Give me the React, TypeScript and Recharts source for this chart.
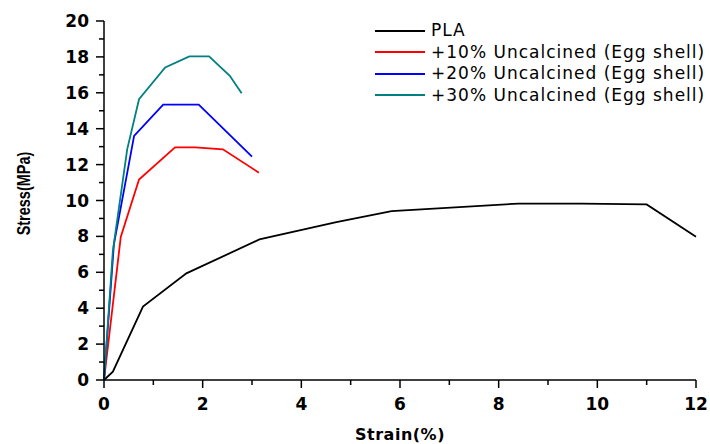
import { LineChart, Line, XAxis, YAxis, Legend, Label } from 'recharts'

// strain (%) / stress (MPa)
const plaStrain = [0, 0.18, 0.79, 1.67, 3.15, 4.71, 5.83, 8.4, 9.68, 11.0, 12.0]
const plaStress = [0, 0.46, 4.09, 5.94, 7.83, 8.8, 9.41, 9.83, 9.83, 9.78, 7.98]

const u10Strain = [0, 0.34, 0.71, 1.44, 1.85, 2.41, 3.14]
const u10Stress = [0, 7.97, 11.17, 12.96, 12.96, 12.85, 11.55]

const u20Strain = [0, 0.2, 0.61, 1.2, 1.92, 3.0]
const u20Stress = [0, 7.54, 13.6, 15.34, 15.34, 12.44]

const u30Strain = [0, 0.18, 0.47, 0.71, 1.24, 1.73, 2.13, 2.55, 2.79]
const u30Stress = [0, 7.2, 12.85, 15.64, 17.41, 18.03, 18.03, 16.95, 15.98]

const xTicks = [0, 1, 2, 3, 4, 5, 6, 7, 8, 9, 10, 11, 12]
const yTicks = [0, 1, 2, 3, 4, 5, 6, 7, 8, 9, 10, 11, 12, 13, 14, 15, 16, 17, 18, 19, 20]

const toPoints = (xs: number[], ys: number[]) => xs.map((x, i) => ({ strain: x, stress: ys[i] }))

const SERIES = [
  { key: 'pla', name: 'PLA', color: '#000000', data: toPoints(plaStrain, plaStress) },
  { key: 'u10', name: '+10% Uncalcined (Egg shell)', color: '#ff0000', data: toPoints(u10Strain, u10Stress) },
  { key: 'u20', name: '+20% Uncalcined (Egg shell)', color: '#0000ff', data: toPoints(u20Strain, u20Stress) },
  { key: 'u30', name: '+30% Uncalcined (Egg shell)', color: '#008080', data: toPoints(u30Strain, u30Stress) },
]

const TICK_FONT = { fontFamily: 'DejaVu Sans', fontWeight: 700, fontSize: 17, fill: '#000' }

function XTick({ x, y, payload }: any) {
  const major = payload.value % 2 === 0
  return (
    <g>
      <line x1={x} x2={x} y1={y} y2={y + (major ? 8 : 5)} stroke="#000" strokeWidth={1.5} />
      {major && <text x={x} y={y + 30} textAnchor="middle" style={TICK_FONT}>{payload.value}</text>}
    </g>
  )
}

function YTick({ x, y, payload }: any) {
  const major = payload.value % 2 === 0
  return (
    <g>
      <line x1={x} x2={x - (major ? 8 : 5)} y1={y} y2={y} stroke="#000" strokeWidth={1.5} />
      {major && <text x={x - 15} y={y + 6} textAnchor="end" style={TICK_FONT}>{payload.value}</text>}
    </g>
  )
}

function XTitle({ viewBox }: any) {
  const vb = viewBox ?? { x: 104, y: 380, width: 592 }
  return (
    <text x={vb.x + vb.width / 2} y={vb.y + 60} textAnchor="middle"
      style={{ fontFamily: 'DejaVu Sans', fontWeight: 700, fontSize: 16, letterSpacing: 0.5, fill: '#000' }}>
      Strain(%)
    </text>
  )
}

// the source image is stretched sideways, so the rotated title gets a bit of extra thickness
function YTitle({ viewBox }: any) {
  const vb = viewBox ?? { x: 44, y: 21, height: 359 }
  const cx = vb.x - 14
  const cy = vb.y + vb.height / 2 - 7
  return (
    <text x={0} y={0} textAnchor="middle" transform={`translate(${cx},${cy}) rotate(-90) scale(1,1.3)`}
      style={{ fontFamily: 'Liberation Sans', fontWeight: 700, fontSize: 14.5, fill: '#000' }}>
      Stress(MPa)
    </text>
  )
}

// keep the original legend order (PLA first)
function LegendBox() {
  return (
    <div>
      {SERIES.map(s => (
        <div key={s.key} style={{ display: 'flex', alignItems: 'center', height: 21.5 }}>
          <span style={{ width: 50, height: 0, borderTop: `2px solid ${s.color}`, marginRight: 6 }} />
          <span style={{ fontFamily: 'DejaVu Sans', fontSize: 17, letterSpacing: 1, color: '#000', lineHeight: '21px' }}>
            {s.name}
          </span>
        </div>
      ))}
    </div>
  )
}

export default function App() {
  return (
    <div style={{ position: 'absolute', left: 0, top: 0, width: 710, height: 444, background: '#fff' }}>
      <LineChart width={710} height={444} margin={{ top: 21, right: 14, bottom: 24, left: 44 }}>
        <XAxis
          type="number"
          dataKey="strain"
          domain={[0, 12]}
          ticks={xTicks}
          interval={0}
          height={40}
          tickSize={0}
          tickMargin={0}
          tickLine={false}
          tick={<XTick />}
          axisLine={{ stroke: '#000', strokeWidth: 1.5 }}
          allowDuplicatedCategory={false}
        >
          <Label content={<XTitle />} />
        </XAxis>
        <YAxis
          type="number"
          dataKey="stress"
          domain={[0, 20]}
          ticks={yTicks}
          interval={0}
          width={60}
          tickSize={0}
          tickMargin={0}
          tickLine={false}
          tick={<YTick />}
          axisLine={{ stroke: '#000', strokeWidth: 1.5 }}
        >
          <Label content={<YTitle />} />
        </YAxis>
        <Legend
          layout="horizontal"
          verticalAlign="middle"
          align="center"
          content={<LegendBox />}
          wrapperStyle={{ position: 'absolute', top: 20, left: 375, width: 335, height: 90 }}
        />
        {SERIES.map(s => (
          <Line key={s.key} data={s.data} dataKey="stress" name={s.name} type="linear"
            stroke={s.color} strokeWidth={1.8} dot={false} activeDot={false}
            isAnimationActive={false} />
        ))}
      </LineChart>
    </div>
  )
}
